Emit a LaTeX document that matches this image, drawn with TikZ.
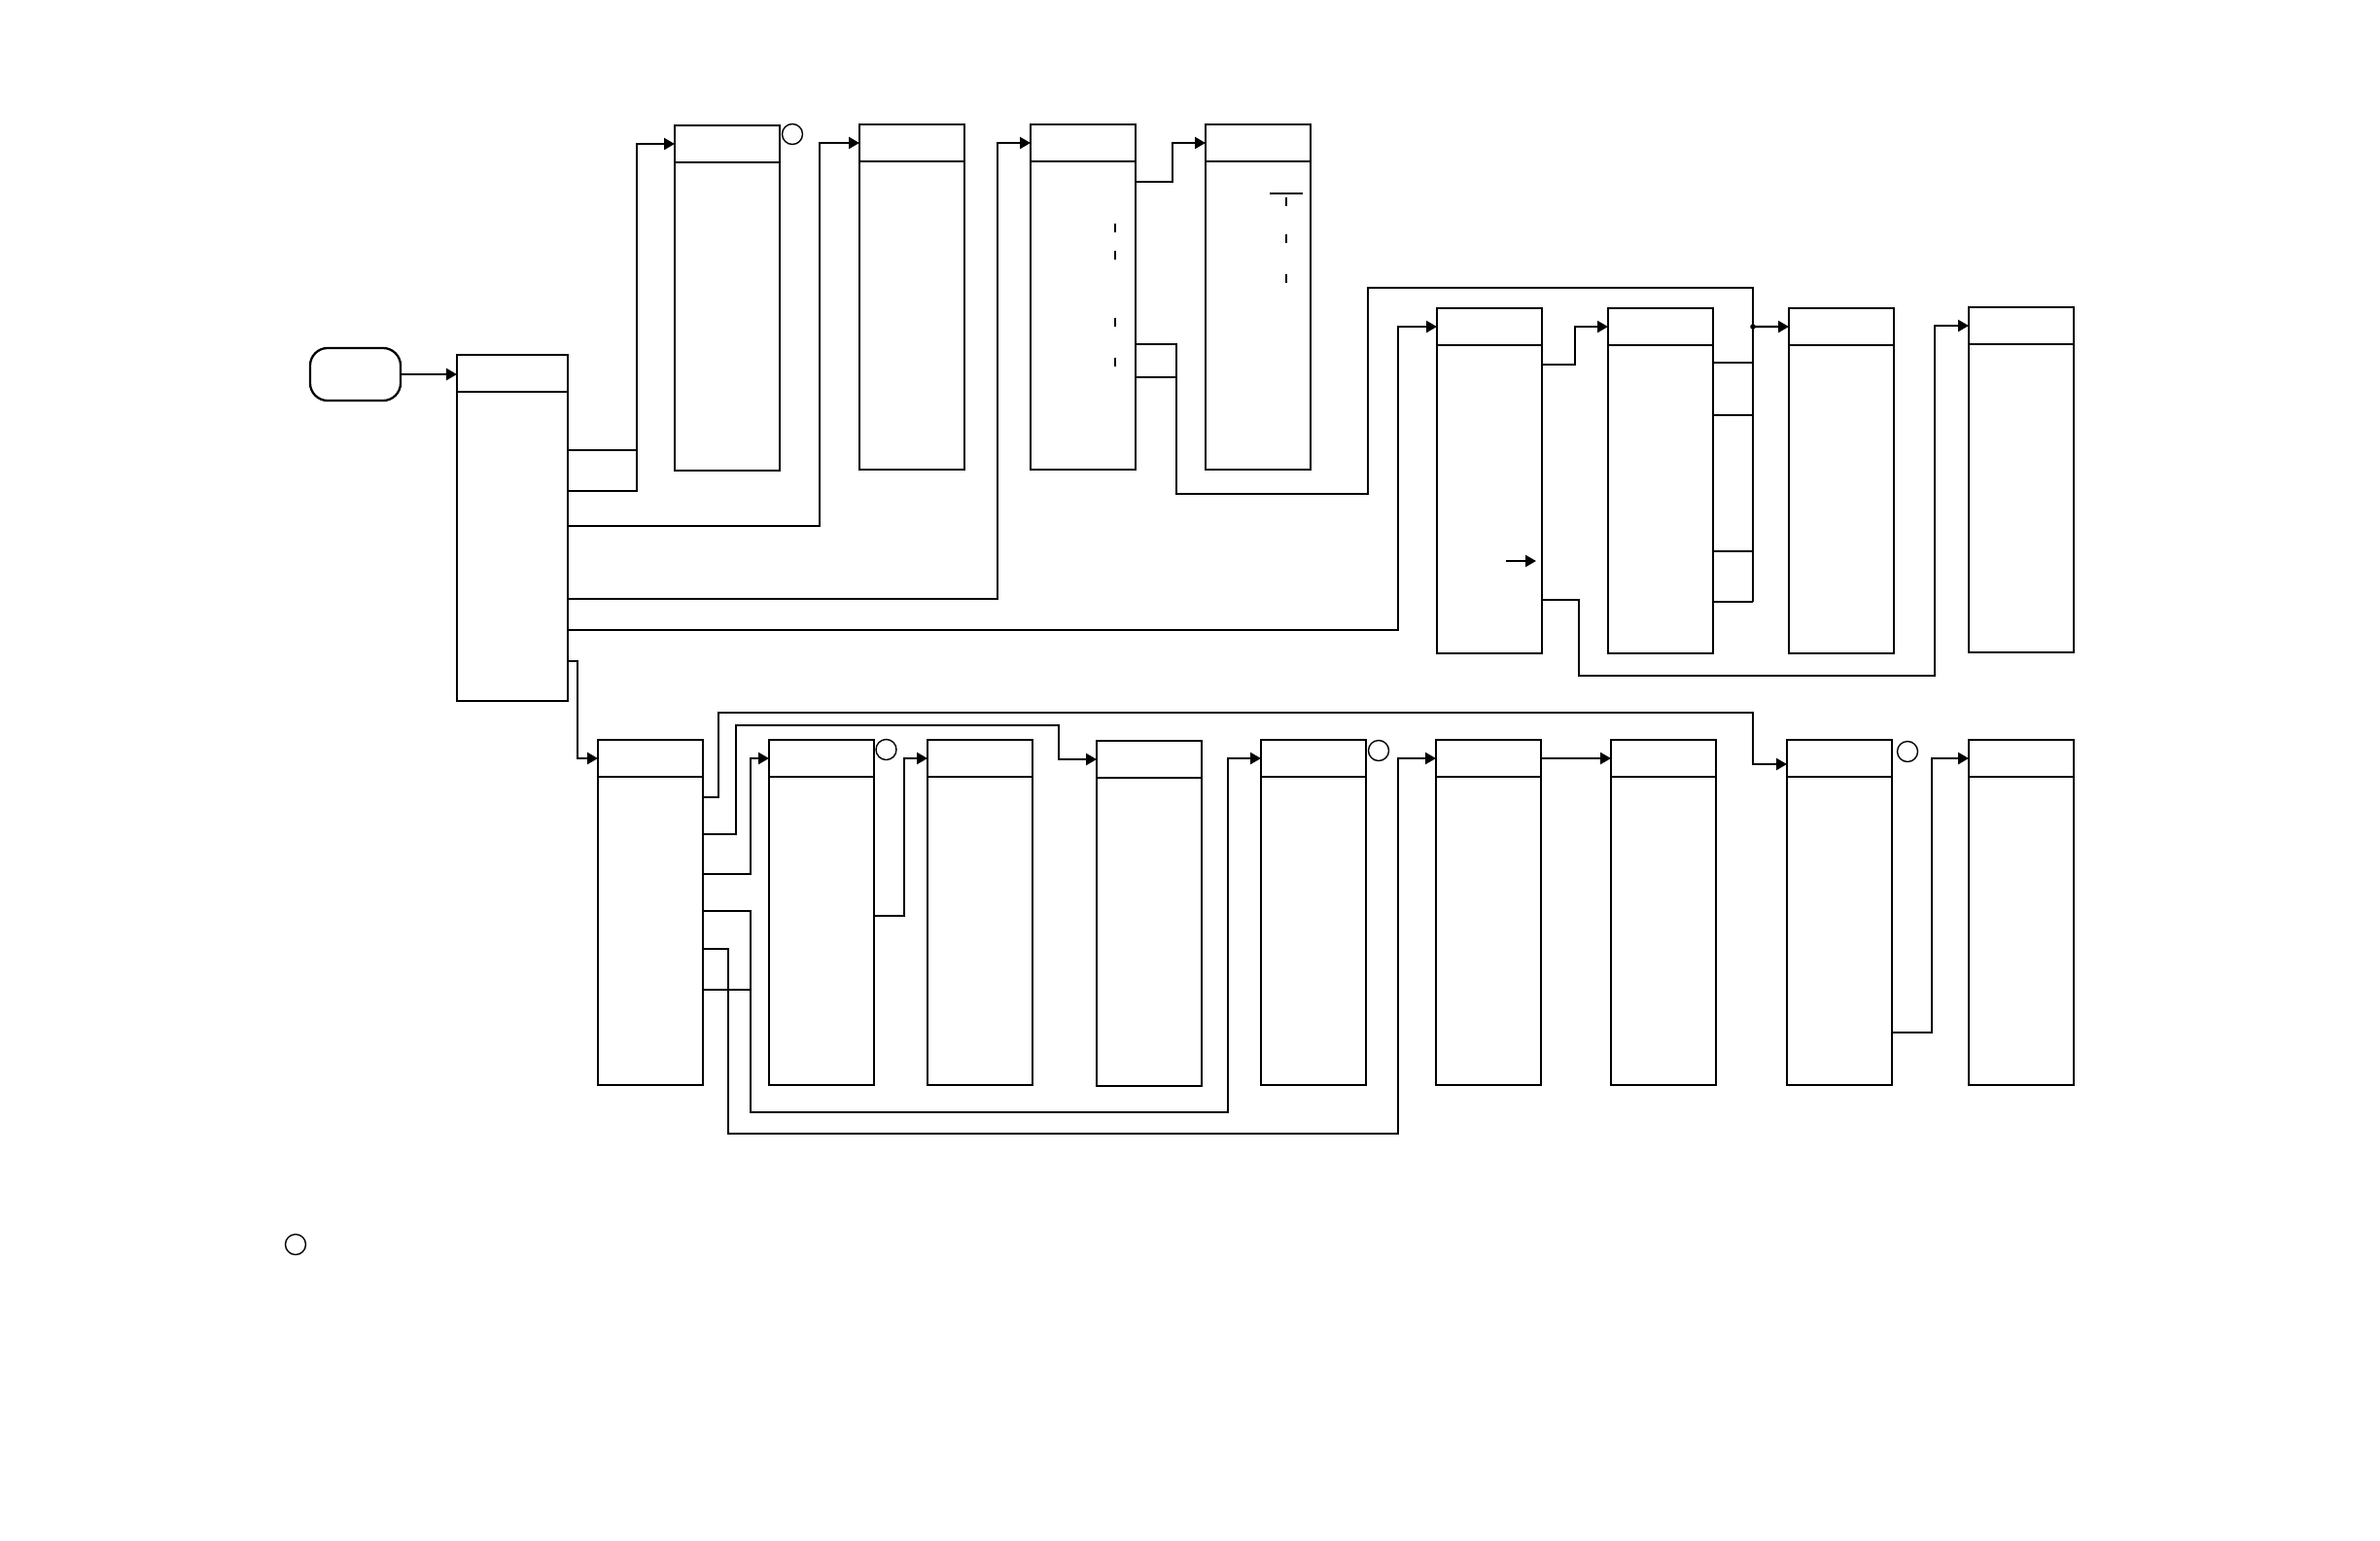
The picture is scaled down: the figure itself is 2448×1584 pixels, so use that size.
\documentclass[tikz,border=0pt]{standalone}
\usetikzlibrary{arrows.meta}

\begin{document}
\begin{tikzpicture}[x=0.01cm,y=0.01cm,line width=0.65pt,
        >={Triangle[length=1.1mm,width=1.2mm]},
        stage/.style={draw,rectangle,anchor=north west,minimum width=1.08cm,minimum height=3.55cm,inner sep=0pt,outer sep=0pt},
        ring/.style={draw,circle,line width=0.4pt,minimum size=0.21cm,inner sep=0pt},
        stub/.style={line width=0.7pt}]
        \useasboundingbox (0,0) rectangle (2448,-1584);

        \node[draw,rounded corners=0.18cm,minimum width=0.93cm,minimum height=0.54cm,inner sep=0pt] (start) at (365.5,-385) {};
        \node[stage,minimum width=1.14cm,minimum height=3.56cm] (a) at (470,-365) {};

        \foreach \n/\x/\y in {b1/694/129,b2/884/128,b3/1060/128,b4/1240/128,
                c1/1478/317,c2/1654/317,c3/1840/317,c4/2025/316,
                d1/615/761,d2/791/761,d3/954/761,d4/1128/762,d5/1297/761,
                d6/1477/761,d7/1657/761,d8/1838/761,d9/2025/761}
            \node[stage] (\n) at (\x,-\y) {};

        % header lines
        \foreach \n in {a,b1,b2,b3,b4,c1,c2,c3,c4,d1,d2,d3,d4,d5,d6,d7,d8,d9} {
            \draw ([yshift=-0.38cm]\n.north west) -- ([yshift=-0.38cm]\n.north east);
            \coordinate (\n-in) at ([yshift=-0.19cm]\n.north west);
        }

        \node[ring] (o1) at (815,-138) {};
        \node[ring] (o2) at (911.5,-771) {};
        \node[ring] (o3) at (1418,-772) {};
        \node[ring] (o4) at (1962,-773) {};
        \node[ring] (o5) at (304,-1280) {};

        \draw[->] (start.east) -- (a-in |- start.east);

        \draw (a.east |- 0,-463) -- (655,-463);
        \draw[->] (a.east |- 0,-505) -- (655,-505) |- (b1-in);
        \draw[->] (a.east |- 0,-541) -- (843,-541) |- (b2-in);
        \draw[->] (a.east |- 0,-616) -- (1026,-616) |- (b3-in);
        \draw[->] (a.east |- 0,-648) -- (1438,-648) |- (c1-in);
        \draw[->] (a.east |- 0,-680) -- (594,-680) |- (d1-in);

        \draw[->] (b3.east |- 0,-187) -- (1206,-187) |- (b4-in);
        \draw (b3.east |- 0,-388) -- (1210,-388);
        \draw (b3.east |- 0,-354) -| (1210,-508) -| (1407,-296) -| (1803,-619);
        \foreach \y in {234,262,331,372}
            \draw[stub] (1147,-\y+4.5) -- (1147,-\y-4.5);
        \draw[line width=0.35pt] (1306,-199) -- (1340,-199);
        \foreach \y in {207,245,286}
            \draw[stub] (1323,-\y+4.5) -- (1323,-\y-4.5);

        \draw[->] (c1.east |- 0,-375) -- (1620,-375) |- (c2-in);
        \foreach \y in {373,427,567,619}
            \draw (c2.east |- 0,-\y) -- (1803,-\y);
        \coordinate (jn) at (1803,-336);
        \fill (jn) circle[radius=0.028cm];
        \draw[->] (jn) -- (c3-in);
        \draw[->] (1549,-577) -- (1580,-577);
        \draw[->] (c1.east |- 0,-617) -| (1624,-695) -- (1990,-695) |- (c4-in);

        \draw[->] (d1.east |- 0,-820) -| (739,-733) -- (1803,-733) |- (d8.west |- 0,-786);
        \draw[->] (d1.east |- 0,-858) -| (757,-746) -- (1089,-746) |- (d4-in);
        \draw[->] (d1.east |- 0,-899) -- (772,-899) |- (d2-in);
        \draw[->] (d1.east |- 0,-937) -| (772,-1144) -- (1263,-1144) |- (d5-in);
        \draw (d1.east |- 0,-1018) -- (772,-1018);
        \draw[->] (d1.east |- 0,-976) -| (749,-1166) -- (1438,-1166) |- (d6-in);
        \draw[->] (d2.east |- 0,-942) -- (930,-942) |- (d3-in);
        \draw[->] (d6.east |- d6-in) -- (d7-in);
        \draw[->] (d8.east |- 0,-1062) -- (1987,-1062) |- (d9-in);
\end{tikzpicture}
\end{document}
